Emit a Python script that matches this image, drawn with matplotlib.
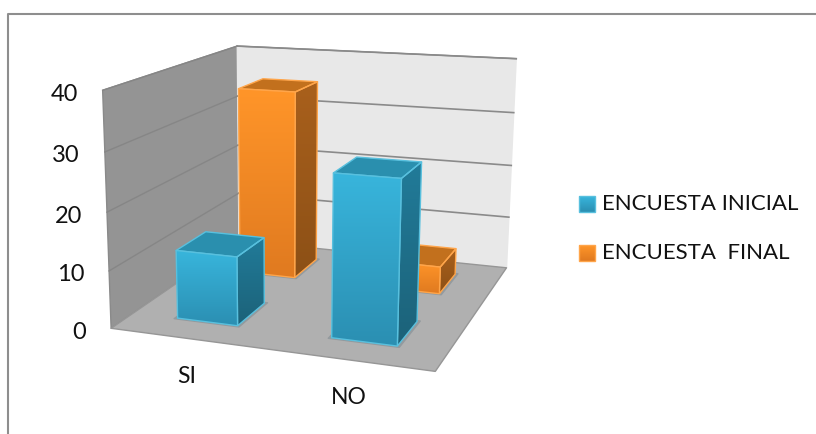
"""
3D column chart of the two surveys, drawn on a flat axes with a perspective camera
"""

import matplotlib
matplotlib.use("Agg")
import matplotlib.pyplot as plt
from matplotlib.colors import LinearSegmentedColormap
from matplotlib.patches import Polygon
import numpy as np

plt.rcParams['font.family'] = ['Lato', 'DejaVu Sans']

# data
categories = ["SI", "NO"]
series_names = ["ENCUESTA INICIAL", "ENCUESTA  FINAL"]
inicial = [12, 27.5]
final = [35, 5]
value_ticks = [0, 10, 20, 30, 40]

# camera: box corners (category, depth, value) and where they land on the canvas
box_corners = [(0, 0, 0), (1, 0, 0), (0, 1, 0), (1, 1, 0), (0, 0, 40), (0, 1, 40), (1, 1, 40)]
canvas_corners = [(112, 328), (435, 372), (238, 241), (507, 267), (102, 90), (238, 46), (516, 59)]


def fit_camera(world, canvas):
    rows, rhs = [], []
    for (x, y, z), (px, py) in zip(world, canvas):
        rows.append([x, y, z, 1, 0, 0, 0, 0, -px*x, -px*y, -px*z])
        rows.append([0, 0, 0, 0, x, y, z, 1, -py*x, -py*y, -py*z])
        rhs += [px, py]
    sol = np.linalg.lstsq(np.array(rows, float), np.array(rhs, float), rcond=None)[0]
    return np.append(sol, 1).reshape(3, 4)


P = fit_camera(box_corners, canvas_corners)


def project(x, y, z):
    u, v, w = P @ np.array([x, y, z, 1.0])
    return u/w, v/w


def face(corners, color, edge=None, z=2, lw=1.0):
    pts = [project(*c) for c in corners]
    poly = Polygon(pts, closed=True, facecolor=color, edgecolor=edge or color, linewidth=lw, zorder=z, joinstyle='round')
    ax.add_patch(poly)
    return poly


def gradient_face(corners, top, bottom, edge, z):
    # vertical gradient clipped to the face outline
    pts = np.array([project(*c) for c in corners])
    cmap = LinearSegmentedColormap.from_list("face", [top, bottom])
    x0, x1 = pts[:, 0].min(), pts[:, 0].max()
    y0, y1 = pts[:, 1].min(), pts[:, 1].max()
    im = ax.imshow(np.linspace(0, 1, 64).reshape(-1, 1), cmap=cmap, extent=(x0, x1, y1, y0),
                   aspect='auto', zorder=z, interpolation='bilinear')
    outline = Polygon(pts, closed=True, facecolor='none', edgecolor=edge, linewidth=1.0, zorder=z+0.01)
    ax.add_patch(outline)
    im.set_clip_path(outline)


def column(cat, depth, value, cols, z):
    x0, x1 = cat*0.5 + 0.15, cat*0.5 + 0.35
    y0, y1 = depth, depth + 0.22
    # soft footprint on the floor
    pad = 0.008
    face([(x0-pad, y0-pad, 0), (x1+pad, y0-pad, 0), (x1+pad, y1+pad, 0), (x0-pad, y1+pad, 0)], "#939a9e", z=z)
    gradient_face([(x0, y0, 0), (x1, y0, 0), (x1, y0, value), (x0, y0, value)], cols['front_top'], cols['front_bot'], cols['edge'], z+0.2)
    gradient_face([(x1, y0, 0), (x1, y1, 0), (x1, y1, value), (x1, y0, value)], cols['side_top'], cols['side_bot'], cols['edge'], z+0.1)
    face([(x0, y0, value), (x1, y0, value), (x1, y1, value), (x0, y1, value)], cols['top'], cols['edge'], z+0.1)


blue = dict(front_top="#38b5dc", front_bot="#2b8fb2", side_top="#217b99", side_bot="#1c6279", top="#2a8fae", edge="#58c0de")
orange = dict(front_top="#ff9529", front_bot="#e07a20", side_top="#a9601c", side_bot="#8c5016", top="#c2701d", edge="#ffa54a")

fig = plt.figure(figsize=(8.16, 4.34), dpi=100)
ax = fig.add_axes([0, 0, 1, 1])
ax.set_xlim(0, 816)
ax.set_ylim(434, 0)
ax.axis('off')

# chart frame
ax.plot([8, 8, 816], [434, 14, 14], color="#8e8e8e", lw=1.5, zorder=0)

# walls and floor
face([(0, 0, 0), (0, 1, 0), (0, 1, 40), (0, 0, 40)], "#949494", "#8a8a8a", z=1)
face([(0, 1, 0), (1, 1, 0), (1, 1, 40), (0, 1, 40)], "#e8e8e8", "#e8e8e8", z=1)
face([(0, 0, 0), (1, 0, 0), (1, 1, 0), (0, 1, 0)], "#b0b0b0", "#969696", z=1.2)

# top edge of the back wall
ax.plot(*zip(project(0, 1, 40), project(1, 1, 40)), color="#8a8a8a", lw=1.0, zorder=1.1)

# gridlines run along both walls
for t in value_ticks[1:]:
    pts = [project(0, 0, t), project(0, 1, t), project(1, 1, t)]
    ax.plot(*zip(*pts[:2]), color="#868686", lw=1.0, zorder=1.1)
    ax.plot(*zip(*pts[1:]), color="#8a8a8a", lw=1.2, zorder=1.1)

# columns, back row first
for i in range(2):
    column(i, 0.65, final[i], orange, 3 + i)
for i in range(2):
    column(i, 0.15, inicial[i], blue, 6 + i)

# value and category labels
for t in value_ticks:
    px, py = project(0, 0, t)
    ax.text(px - 25, py + 4, str(t), ha='right', va='center', fontsize=17, color="#111111")
for i, c in enumerate(categories):
    px, py = project(0.25 + i*0.5, 0, 0)
    ax.text(px, py + 38, c, ha='center', va='center', fontsize=16.5, color="#111111")

# legend
legend_y = [204, 253]
for name, y, cols in zip(series_names, legend_y, (blue, orange)):
    im = ax.imshow(np.linspace(0, 1, 16).reshape(-1, 1),
                   cmap=LinearSegmentedColormap.from_list("key", [cols['front_top'], cols['front_bot']]),
                   extent=(579, 595, y + 8, y - 8), aspect='auto', zorder=5)
    ax.add_patch(Polygon([(579, y-8), (595, y-8), (595, y+8), (579, y+8)], closed=True, fill=False, edgecolor=cols['edge'], lw=1, zorder=5.1))
    ax.text(602, y, name, ha='left', va='center', fontsize=16, color="#111111")

ax.set_xlim(0, 816)
ax.set_ylim(434, 0)
fig.savefig("out.png", dpi=100)
